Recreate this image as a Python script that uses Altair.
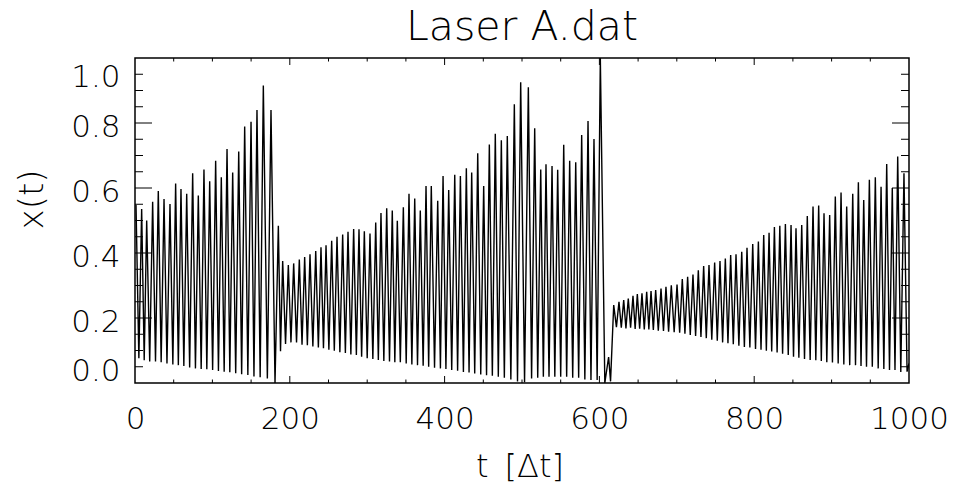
import altair as alt
import pandas as pd

# ---- Laser A.dat: pulse maxima and minima of the intensity trace (normalised to 0..1) ----
# episode 1: growing pulses up to the first collapse
ep1_peak_t = [1.3, 8.6, 15.1, 22.8, 30.1, 37.5, 45.2, 52.5, 59.4, 66.8,
              74.5, 81.8, 89.1, 96.5, 104.2, 111.5, 118.9, 126.2, 134.0, 141.7,
              149.9, 157.6, 165.8, 175.7]
ep1_peak_x = [0.548, 0.535, 0.500, 0.558, 0.591, 0.566, 0.551, 0.614, 0.597, 0.582,
              0.645, 0.577, 0.657, 0.621, 0.684, 0.633, 0.720, 0.648, 0.712, 0.789,
              0.804, 0.840, 0.915, 0.840]
ep1_trough_t = [5.0, 11.9, 19.0, 26.5, 33.8, 41.3, 48.9, 56.0, 63.1, 70.6,
                78.1, 85.5, 92.8, 100.3, 107.8, 115.2, 122.5, 130.1, 137.8, 145.8,
                153.7, 161.7, 171.0, 180.9]
ep1_trough_x = [0.076, 0.070, 0.066, 0.066, 0.064, 0.060, 0.057, 0.055, 0.052, 0.048,
                0.045, 0.043, 0.042, 0.040, 0.037, 0.035, 0.033, 0.030, 0.027, 0.025,
                0.020, 0.018, 0.014, 0.000]

# episode 2: rebuild after the collapse, up to the large spike near t = 600
ep2_peak_t = [185.2, 190.8, 198.1, 205.0, 212.3, 219.2, 226.1, 233.5, 240.3, 246.8,
              254.1, 261.0, 268.3, 275.2, 282.5, 289.4, 296.3, 303.6, 311.0, 317.8,
              325.2, 332.4, 338.9, 346.7, 354.0, 361.4, 368.6, 376.0, 382.8, 391.1,
              398.0, 405.3, 413.1, 420.4, 428.1, 435.0, 442.8, 450.5, 457.8, 465.5,
              473.3, 481.0, 490.1, 498.3, 508.2, 516.4, 524.2, 531.0, 538.8, 546.1,
              553.9, 561.6, 569.4, 577.1, 585.3, 593.0, 601.2, 611.9]
ep2_peak_x = [0.484, 0.375, 0.363, 0.368, 0.380, 0.388, 0.396, 0.406, 0.418, 0.424,
              0.438, 0.450, 0.457, 0.465, 0.474, 0.473, 0.467, 0.460, 0.494, 0.523,
              0.538, 0.531, 0.499, 0.541, 0.582, 0.568, 0.531, 0.606, 0.606, 0.561,
              0.637, 0.594, 0.641, 0.637, 0.661, 0.648, 0.707, 0.606, 0.734, 0.767,
              0.747, 0.760, 0.858, 0.925, 0.910, 0.784, 0.657, 0.673, 0.668, 0.656,
              0.733, 0.684, 0.679, 0.763, 0.806, 0.751, 1.000, 0.080]
ep2_trough_t = [188.0, 194.5, 201.5, 208.7, 215.8, 222.7, 229.8, 236.9, 243.5, 250.5,
                257.5, 264.7, 271.8, 278.9, 286.0, 292.8, 300.0, 307.3, 314.4, 321.5,
                328.8, 335.7, 342.8, 350.4, 357.7, 365.0, 372.3, 379.4, 387.0, 394.6,
                401.7, 409.2, 416.8, 424.3, 431.6, 438.9, 446.7, 454.2, 461.7, 469.4,
                477.2, 485.6, 494.2, 503.3, 512.4, 520.3, 527.6, 534.9, 542.4, 550.0,
                557.7, 565.5, 573.2, 581.2, 589.1, 597.1, 607.0, 614.4]
ep2_trough_x = [0.098, 0.120, 0.125, 0.125, 0.118, 0.116, 0.112, 0.109, 0.107, 0.102,
                0.099, 0.095, 0.092, 0.088, 0.086, 0.081, 0.076, 0.074, 0.071, 0.068,
                0.066, 0.064, 0.064, 0.060, 0.057, 0.055, 0.053, 0.050, 0.047, 0.045,
                0.043, 0.040, 0.038, 0.034, 0.032, 0.029, 0.026, 0.024, 0.022, 0.019,
                0.016, 0.011, 0.005, 0.002, 0.014, 0.016, 0.019, 0.019, 0.019, 0.019,
                0.019, 0.016, 0.016, 0.011, 0.009, 0.009, 0.000, 0.005]

# episode 3: small fast oscillations growing towards the end of the record
ep3_peak_t = [618.5, 625.3, 631.4, 637.3, 643.4, 649.0, 655.0, 661.1, 666.7, 672.7,
              679.6, 686.0, 692.9, 700.3, 707.1, 714.0, 720.9, 727.8, 734.7, 741.6,
              748.9, 755.8, 762.7, 769.6, 776.5, 783.9, 790.7, 798.1, 805.4, 812.3,
              819.2, 826.1, 833.1, 840.3, 847.6, 854.0, 861.4, 868.6, 876.0, 883.3,
              890.2, 897.5, 904.8, 912.2, 919.5, 927.3, 934.6, 941.5, 948.8, 956.5,
              963.9, 971.2, 978.4, 985.4, 993.5, 1000.0]
ep3_peak_x = [0.240, 0.250, 0.255, 0.260, 0.268, 0.274, 0.276, 0.281, 0.283, 0.286,
              0.291, 0.296, 0.301, 0.303, 0.320, 0.327, 0.334, 0.347, 0.360, 0.363,
              0.371, 0.375, 0.383, 0.394, 0.396, 0.404, 0.416, 0.428, 0.435, 0.455,
              0.462, 0.480, 0.484, 0.489, 0.486, 0.476, 0.486, 0.514, 0.543, 0.546,
              0.522, 0.517, 0.574, 0.586, 0.543, 0.582, 0.618, 0.563, 0.625, 0.633,
              0.604, 0.674, 0.600, 0.697, 0.645, 0.060]
ep3_trough_t = [622.0, 628.3, 634.3, 640.3, 646.2, 652.0, 658.0, 663.9, 669.7, 676.1,
                682.8, 689.4, 696.6, 703.7, 710.5, 717.4, 724.3, 731.2, 738.1, 745.2,
                752.3, 759.2, 766.1, 773.0, 780.2, 787.3, 794.4, 801.7, 808.8, 815.7,
                822.6, 829.6, 836.7, 844.0, 850.8, 857.7, 865.0, 872.3, 879.6, 886.7,
                893.8, 901.1, 908.5, 915.8, 923.4, 930.9, 938.0, 945.1, 952.6, 960.2,
                967.5, 974.8, 981.9, 989.4, 997.5]
ep3_trough_x = [0.172, 0.170, 0.168, 0.170, 0.166, 0.167, 0.165, 0.165, 0.163, 0.161,
                0.160, 0.158, 0.156, 0.155, 0.152, 0.148, 0.145, 0.142, 0.138, 0.133,
                0.130, 0.125, 0.122, 0.119, 0.115, 0.111, 0.109, 0.105, 0.102, 0.099,
                0.097, 0.094, 0.090, 0.086, 0.081, 0.078, 0.074, 0.071, 0.070, 0.068,
                0.064, 0.063, 0.060, 0.057, 0.055, 0.055, 0.052, 0.050, 0.050, 0.045,
                0.043, 0.040, 0.040, 0.034, 0.035]

# ---- axis ticks and labels ----
x_labels = [0, 200, 400, 600, 800, 1000]
y_labels = [0.0, 0.2, 0.4, 0.6, 0.8, 1.0]
x_major = [200, 400, 600, 800]
x_minor = [50, 100, 150, 250, 300, 350, 450, 500, 550, 650, 700, 750, 850, 900, 950]
y_major = [0.2, 0.4, 0.6, 0.8]
y_minor = [0.05, 0.1, 0.15, 0.25, 0.3, 0.35, 0.45, 0.5, 0.55, 0.65, 0.7, 0.75,
           0.85, 0.9, 0.95]

FONT = "DejaVu Sans"
WEIGHT = 200
W, H = 774, 325

t_all = ep1_peak_t + ep1_trough_t + ep2_peak_t + ep2_trough_t + ep3_peak_t + ep3_trough_t
x_all = ep1_peak_x + ep1_trough_x + ep2_peak_x + ep2_trough_x + ep3_peak_x + ep3_trough_x
series = pd.DataFrame({"t": t_all, "x": x_all}).sort_values("t").reset_index(drop=True)

x_scale = alt.Scale(domain=[0, 1000], nice=False, zero=False)
y_scale = alt.Scale(domain=[0, 1], nice=False, zero=False)

x_axis = alt.Axis(
    values=x_labels, format="d", ticks=False, tickSize=0, domain=False, grid=False,
    labelFlush=False, labelOverlap=False, labelPadding=21,
    labelFont=FONT, labelFontSize=31, labelFontWeight=WEIGHT, labelColor="black",
    title="t\u2002[\u0394t]", titleFont=FONT, titleFontSize=32,
    titleFontWeight=WEIGHT, titleColor="black",
    titleX=384.5, titleY=93, titleBaseline="alphabetic", titleAlign="center",
)
y_axis = alt.Axis(
    values=y_labels, format=".1f", ticks=False, tickSize=0, domain=False, grid=False,
    labelFlush=True, labelOffset=4, labelPadding=15,
    labelFont=FONT, labelFontSize=31, labelFontWeight=WEIGHT, labelColor="black",
    title="x(t)", titleFont=FONT, titleFontSize=34, titleFontWeight=WEIGHT,
    titleColor="black", titleAngle=270,
    titleX=-93, titleY=141, titleBaseline="alphabetic", titleAlign="center",
)

trace = alt.Chart(series).mark_line(color="black", strokeWidth=1.4, clip=True).encode(
    x=alt.X("t:Q", scale=x_scale, axis=x_axis),
    y=alt.Y("x:Q", scale=y_scale, axis=y_axis),
)


def y_ticks(values, length, side):
    start, end = (0, length) if side == "left" else (W, W - length)
    return alt.Chart(pd.DataFrame({"x": values})).mark_rule(
        color="black", strokeWidth=1
    ).encode(
        y=alt.Y("x:Q", scale=y_scale, axis=y_axis),
        x=alt.value(start),
        x2=alt.value(end),
    )


def x_ticks(values, length, side):
    start, end = (H, H - length) if side == "bottom" else (0, length)
    return alt.Chart(pd.DataFrame({"t": values})).mark_rule(
        color="black", strokeWidth=1
    ).encode(
        x=alt.X("t:Q", scale=x_scale, axis=x_axis),
        y=alt.value(start),
        y2=alt.value(end),
    )


tick_layers = [
    y_ticks(y_major, 17, "left"), y_ticks(y_minor, 8, "left"),
    y_ticks(y_major, 17, "right"), y_ticks(y_minor, 8, "right"),
    x_ticks(x_major, 7, "bottom"), x_ticks(x_minor, 3.5, "bottom"),
    x_ticks(x_major, 7, "top"), x_ticks(x_minor, 3.5, "top"),
]

chart = alt.layer(trace, *tick_layers).properties(
    width=W,
    height=H,
    title=alt.TitleParams(
        "Laser A.dat", font=FONT, fontSize=41, fontWeight=WEIGHT, color="black",
        anchor="middle", frame="group", offset=15, dy=38, baseline="alphabetic",
    ),
    padding={"left": 135, "top": 58, "right": 45, "bottom": 101},
    autosize=alt.AutoSizeParams(type="none"),
).configure(background="white").configure_view(stroke="black", strokeWidth=1.5)

chart.save("out.html", embed_options={"renderer": "svg", "actions": False})
